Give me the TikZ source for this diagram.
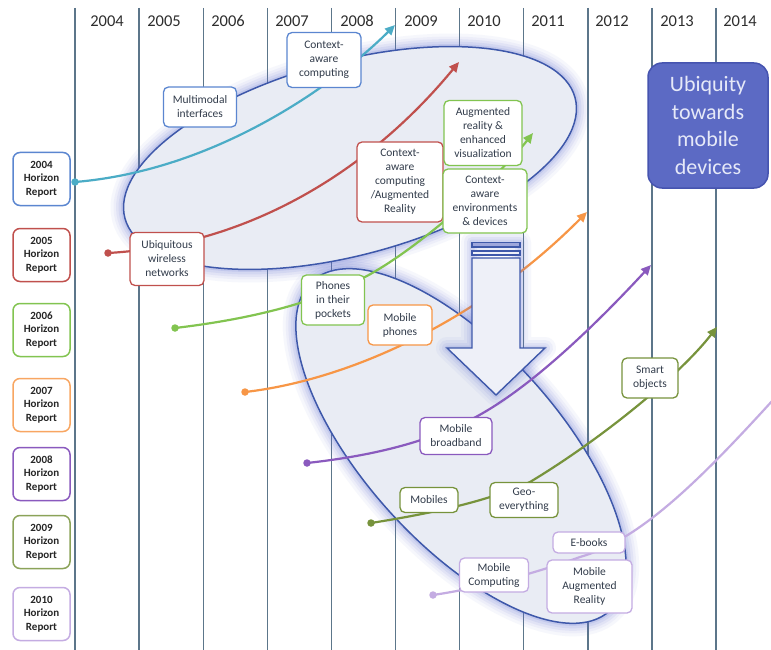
\documentclass[tikz,border=0pt]{standalone}
\usepackage{fontspec}
\setmainfont{Carlito}
\usetikzlibrary{arrows.meta}
\definecolor{gridc}{RGB}{92,118,138}
\definecolor{ellfill}{RGB}{233,236,244}
\definecolor{elldraw}{RGB}{62,88,170}
\definecolor{glowc}{RGB}{95,110,210}
\definecolor{txt}{RGB}{50,60,75}
\definecolor{cBlueLine}{RGB}{75,172,198}
\definecolor{cBlue}{RGB}{91,134,208}
\definecolor{cRed}{RGB}{192,80,77}
\definecolor{cGreen}{RGB}{130,196,80}
\definecolor{cOrange}{RGB}{247,150,70}
\definecolor{cPurple}{RGB}{138,90,190}
\definecolor{cOlive}{RGB}{119,147,60}
\definecolor{cLav}{RGB}{196,172,226}
\definecolor{ubfill}{RGB}{92,106,196}
\definecolor{ubdraw}{RGB}{70,84,176}
\definecolor{ubtext}{RGB}{230,233,248}
\definecolor{arrfill}{RGB}{238,240,248}
\begin{document}
\begin{tikzpicture}[x=1pt,y=-1pt,
  lbl/.style={draw=#1, fill=white, rounded corners=5pt, line width=1.3pt, align=center, text=txt, font=\fontsize{11.5}{14}\selectfont, inner sep=1pt},
  hr/.style={draw=#1, fill=white, rounded corners=7pt, line width=1.5pt, align=center, text=black!85, font=\fontsize{11}{13.7}\selectfont\bfseries, minimum width=57pt, minimum height=53pt, inner sep=1pt},
  conn/.style={draw=#1, line width=2.2pt, -{Triangle[length=10pt,width=9pt]}},
  plainconn/.style={draw=#1, line width=2.2pt},
  dotnode/.style={circle, fill=#1, inner sep=0pt, minimum size=7.5pt},
  yr/.style={text=black!82, font=\fontsize{16.5}{19}\selectfont},
  gridline/.style={draw=gridc, line width=1.4pt},
  ellbody/.style={fill=ellfill, draw=elldraw, line width=1.5pt},
]
\useasboundingbox (0,0) rectangle (771,650);
\fill[white] (0,0) rectangle (771,650);

% grid lines
\foreach \i in {0,...,10} {
  \draw[gridline] ({75+64.1*\i},8) -- ({75+64.1*\i},650);
}
% year labels
\node[yr] (y04) at (107,21) {2004};
\node[yr] (y05) at (164,21) {2005};
\node[yr] (y06) at (228,21) {2006};
\node[yr] (y07) at (292,21) {2007};
\node[yr] (y08) at (357,21) {2008};
\node[yr] (y09) at (421,21) {2009};
\node[yr] (y10) at (484,21) {2010};
\node[yr] (y11) at (548,21) {2011};
\node[yr] (y12) at (612,21) {2012};
\node[yr] (y13) at (677,21) {2013};
\node[yr] (y14) at (740,21) {2014};

% lower ellipse with glow
\foreach \w/\o in {26/0.05,20/0.06,15/0.08,10/0.1,5/0.14} {
  \draw[shift={(461,446)}, rotate=-48, draw=glowc, draw opacity=\o, line width=\w pt] (0,0) ellipse [x radius=222pt, y radius=97pt];
}
\draw[shift={(461,446)}, rotate=-48, ellbody] (0,0) ellipse [x radius=222pt, y radius=97pt];

% upper ellipse with glow
\foreach \w/\o in {26/0.05,20/0.06,15/0.08,10/0.1,5/0.14} {
  \draw[shift={(350,158)}, rotate=15, draw=glowc, draw opacity=\o, line width=\w pt] (0,0) ellipse [x radius=233pt, y radius=97pt];
}
\draw[shift={(350,158)}, rotate=15, ellbody] (0,0) ellipse [x radius=233pt, y radius=97pt];

% start dots and end points
\node[dotnode=cBlueLine] (d04) at (75,182) {};
\node[dotnode=cRed] (d05) at (108,253) {};
\node[dotnode=cGreen] (d06) at (175,328) {};
\node[dotnode=cOrange] (d07) at (245,392) {};
\node[dotnode=cPurple] (d08) at (307,463) {};
\node[dotnode=cOlive] (d09) at (371,523) {};
\node[dotnode=cLav] (d10) at (433,595) {};
\coordinate (t04) at (395,25);
\coordinate (t05) at (459,62);
\coordinate (j06) at (365,277);
\coordinate (t06) at (533,133);
\coordinate (t07) at (587,212);
\coordinate (j08) at (470,420);
\coordinate (t08) at (651,265);
\coordinate (j09) at (530,482);
\coordinate (t09) at (717,327);
\coordinate (j10) at (580,557);
\coordinate (t10) at (773,400);

% connectors
\draw[conn=cBlueLine] (d04.center) .. controls (220,170) and (340,80) .. (t04);
\draw[conn=cRed] (d05.center) .. controls (250,245) and (370,170) .. (t05);
\draw[conn=cGreen] (d06.center) .. controls (260,318) and (320,300) .. (j06) .. controls (420,248) and (500,175) .. (t06);
\draw[conn=cOrange] (d07.center) .. controls (350,380) and (480,320) .. (t07);
\draw[conn=cPurple] (d08.center) .. controls (380,455) and (430,440) .. (j08) .. controls (530,390) and (600,320) .. (t08);
\draw[conn=cOlive] (d09.center) .. controls (440,512) and (490,500) .. (j09) .. controls (600,440) and (680,375) .. (t09);
\draw[plainconn=cLav] (d10.center) .. controls (480,588) and (530,575) .. (j10) .. controls (640,540) and (700,480) .. (t10);

% big down arrow
\foreach \w/\o in {22/0.05,16/0.07,10/0.09,5/0.13} {
  \draw[draw=glowc, draw opacity=\o, line width=\w pt, line join=round] (472,242) -- (520,242) -- (520,348) -- (545,348) -- (496,395) -- (447,348) -- (472,348) -- cycle;
}
\draw[fill=arrfill, draw=elldraw, line width=1.4pt] (472,258) -- (520,258) -- (520,348) -- (545,348) -- (496,395) -- (447,348) -- (472,348) -- cycle;
\draw[fill=ubfill!60, draw=elldraw, line width=1.4pt] (472,242.5) rectangle (520,247);
\draw[fill=arrfill, draw=elldraw, line width=1.4pt] (472,251) rectangle (520,255);

% Horizon report boxes
\node[hr=cBlue] (h04) at (41.5,179) {2004\\Horizon\\Report};
\node[hr=cRed] (h05) at (41.5,255) {2005\\Horizon\\Report};
\node[hr=cGreen] (h06) at (41.5,330) {2006\\Horizon\\Report};
\node[hr=cOrange!85] (h07) at (41.5,405) {2007\\Horizon\\Report};
\node[hr=cPurple] (h08) at (41.5,474) {2008\\Horizon\\Report};
\node[hr=cOlive!85] (h09) at (41.5,542) {2009\\Horizon\\Report};
\node[hr=cLav] (h10) at (41.5,614) {2010\\Horizon\\Report};

% topic boxes
\node[lbl=cBlue, minimum width=74pt, minimum height=55pt] (cac) at (324,60) {Context-\\aware\\computing};
\node[lbl=cBlue, minimum width=73pt, minimum height=40pt] (mmi) at (200,107) {Multimodal\\interfaces};
\node[lbl=cRed, minimum width=74pt, minimum height=53pt] (uwn) at (167,259) {Ubiquitous\\wireless\\networks};
\node[lbl=cRed, minimum width=86pt, minimum height=80pt] (cacar) at (400,182) {Context-\\aware\\computing\\/Augmented\\Reality};
\node[lbl=cGreen, minimum width=63pt, minimum height=50pt] (pitp) at (333,300) {Phones\\in their\\pockets};
\node[lbl=cGreen, minimum width=84pt, minimum height=64pt] (caed) at (485,201) {Context-\\aware\\environments\\\& devices};
\node[lbl=cGreen, minimum width=78pt, minimum height=65pt] (arev) at (483,133) {Augmented\\reality \&\\enhanced\\visualization};
\node[lbl=cOrange, minimum width=64pt, minimum height=40pt] (mph) at (400,325) {Mobile\\phones};
\node[lbl=cPurple, minimum width=72pt, minimum height=37pt] (mbb) at (456,436) {Mobile\\broadband};
\node[lbl=cOlive, minimum width=58pt, minimum height=25pt] (mob) at (429,500) {Mobiles};
\node[lbl=cOlive, minimum width=68pt, minimum height=35pt] (geo) at (524,500) {Geo-\\everything};
\node[lbl=cOlive, minimum width=56pt, minimum height=40pt] (smo) at (650,378) {Smart\\objects};
\node[lbl=cLav, minimum width=69pt, minimum height=34pt] (mco) at (494,575) {Mobile\\Computing};
\node[lbl=cLav, minimum width=72pt, minimum height=21pt] (ebk) at (589,542.5) {E-books};
\node[lbl=cLav, minimum width=85pt, minimum height=53pt] (mar) at (589.5,586.5) {Mobile\\Augmented\\Reality};

% Ubiquity box
\node[draw=ubdraw, fill=ubfill, line width=1.5pt, rounded corners=14pt, minimum width=120pt, minimum height=125pt, align=center, text=ubtext, font=\fontsize{22}{27.7}\selectfont] (ubq) at (708,125.5) {Ubiquity\\towards\\mobile\\devices};
\end{tikzpicture}
\end{document}
